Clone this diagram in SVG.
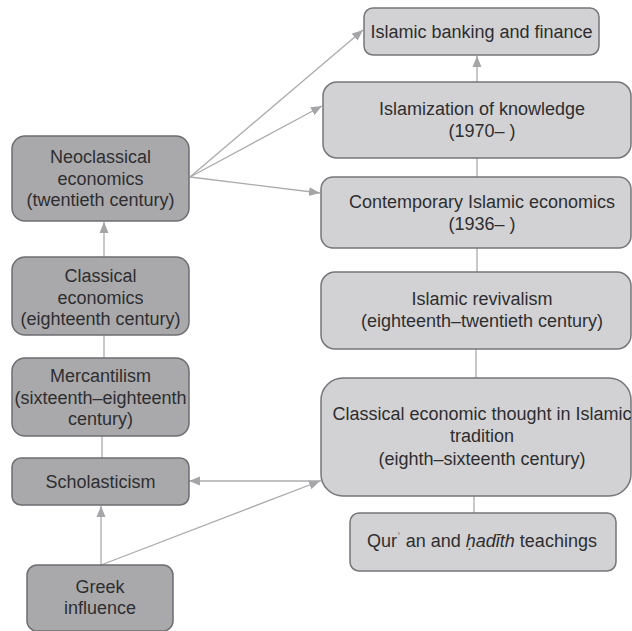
<svg xmlns="http://www.w3.org/2000/svg" width="632" height="631" viewBox="0 0 632 631">
  <style>
    .dark { fill: #a9a9ac; stroke: #6e6e72; stroke-width: 1.5; }
    .light { fill: #d2d2d4; stroke: #76767a; stroke-width: 1.5; }
    .lbl { font-family: "Liberation Sans", Arial, sans-serif; font-size: 18px; fill: #2e2e30; text-anchor: middle; }
    .edge { fill: none; stroke: #ababae; stroke-width: 1.3; }
    .arr { marker-end: url(#tip); }
  </style>
  <defs>
    <marker id="tip" markerUnits="userSpaceOnUse" markerWidth="12" markerHeight="10" refX="11" refY="5" orient="auto">
      <path d="M0,0.5 L11,5 L0,9.5 Z" fill="#a5a5a8"/>
    </marker>
  </defs>

  <rect width="632" height="631" fill="#ffffff"/>

  <g id="connectors">
    <path class="edge arr" d="M190,177 L363,30"/>
    <path class="edge arr" d="M190,177 L322,106"/>
    <path class="edge arr" d="M190,177 L320,193"/>
    <path class="edge arr" d="M104,257 L104,222"/>
    <path class="edge" d="M104,358 L104,335"/>
    <path class="edge" d="M102,458 L102,436"/>
    <path class="edge arr" d="M101,565 L101,506"/>
    <path class="edge arr" d="M101,565 L320,481"/>
    <path class="edge arr" d="M321,481 L189,481"/>
    <path class="edge arr" d="M477,82 L477,56"/>
    <path class="edge" d="M477,177 L477,158"/>
    <path class="edge" d="M477,272 L477,248"/>
    <path class="edge" d="M476,378 L476,349"/>
    <path class="edge" d="M474,513 L474,496"/>
  </g>

  <g id="neoclassical">
    <rect class="dark" x="12" y="136" width="177" height="85" rx="13"/>
    <text class="lbl" x="100.5" y="163">Neoclassical</text>
    <text class="lbl" x="100.5" y="184.5">economics</text>
    <text class="lbl" x="100.5" y="206">(twentieth century)</text>
  </g>

  <g id="classical">
    <rect class="dark" x="12" y="257" width="177" height="78" rx="13"/>
    <text class="lbl" x="100.5" y="282">Classical</text>
    <text class="lbl" x="100.5" y="303.5">economics</text>
    <text class="lbl" x="100.5" y="325">(eighteenth century)</text>
  </g>

  <g id="mercantilism">
    <rect class="dark" x="12" y="358" width="177" height="78" rx="13"/>
    <text class="lbl" x="100.5" y="382">Mercantilism</text>
    <text class="lbl" x="100.5" y="403.5">(sixteenth–eighteenth</text>
    <text class="lbl" x="100.5" y="425">century)</text>
  </g>

  <g id="scholasticism">
    <rect class="dark" x="12" y="458" width="177" height="47" rx="9"/>
    <text class="lbl" x="100.5" y="487.5">Scholasticism</text>
  </g>

  <g id="greek">
    <rect class="dark" x="27" y="565" width="146" height="66" rx="10"/>
    <text class="lbl" x="100" y="593">Greek</text>
    <text class="lbl" x="100" y="614">influence</text>
  </g>

  <g id="banking">
    <rect class="light" x="364" y="8" width="235" height="47" rx="9"/>
    <text class="lbl" x="481.5" y="37.5">Islamic banking and finance</text>
  </g>

  <g id="islamization">
    <rect class="light" x="323" y="82" width="308" height="76" rx="14"/>
    <text class="lbl" x="482" y="115">Islamization of knowledge</text>
    <text class="lbl" x="482" y="137">(1970– )</text>
  </g>

  <g id="contemporary">
    <rect class="light" x="321" y="177" width="310" height="71" rx="12"/>
    <text class="lbl" x="482" y="208">Contemporary Islamic economics</text>
    <text class="lbl" x="482" y="230">(1936– )</text>
  </g>

  <g id="revivalism">
    <rect class="light" x="321" y="272" width="310" height="77" rx="14"/>
    <text class="lbl" x="482" y="305">Islamic revivalism</text>
    <text class="lbl" x="482" y="327">(eighteenth–twentieth century)</text>
  </g>

  <g id="classical-islamic">
    <rect class="light" x="321" y="378" width="310" height="118" rx="22"/>
    <text class="lbl" x="482" y="420">Classical economic thought in Islamic</text>
    <text class="lbl" x="482" y="442">tradition</text>
    <text class="lbl" x="482" y="465">(eighth–sixteenth century)</text>
  </g>

  <g id="quran">
    <rect class="light" x="350" y="513" width="266" height="58" rx="9"/>
    <text class="lbl" x="482" y="547">Qur<tspan font-size="11" dy="-6">ʾ</tspan><tspan dy="6"> an and </tspan><tspan font-style="italic">ḥadīth</tspan> teachings</text>
  </g>
</svg>
